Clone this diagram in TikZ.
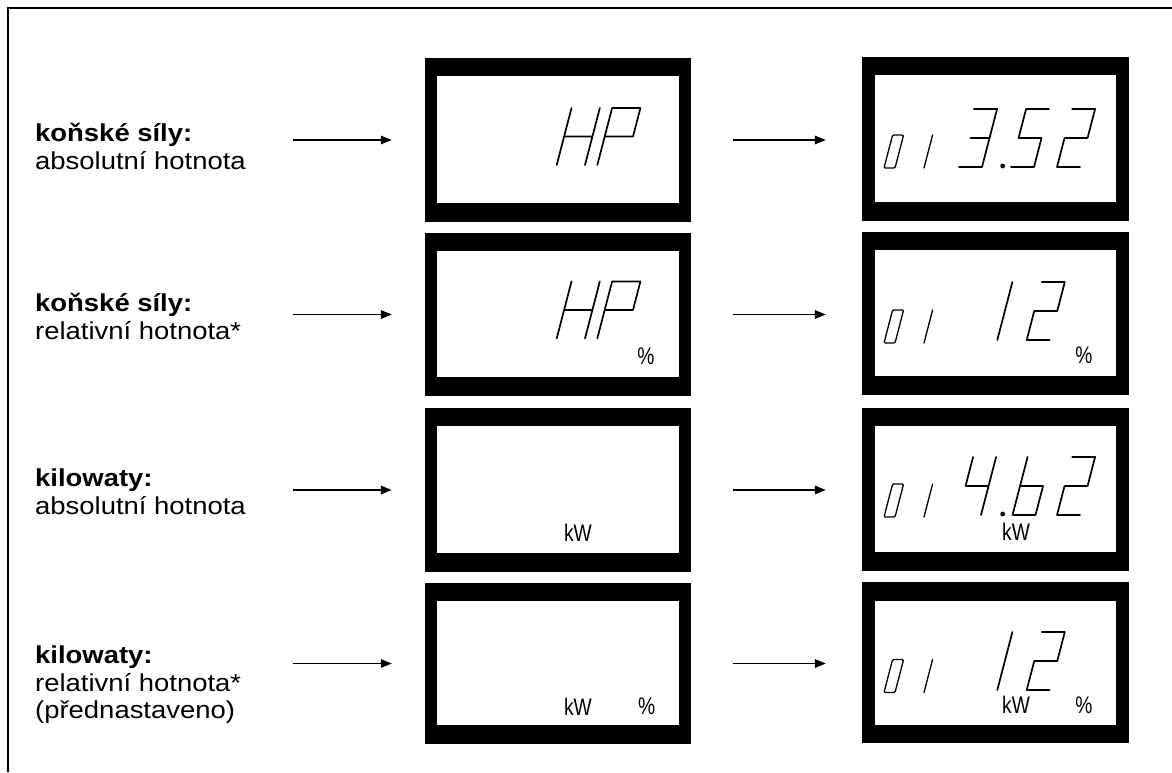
\documentclass[tikz,border=0pt]{standalone}
\usepackage{fontspec}
\setmainfont{Liberation Sans}
\newfontfamily\labelfont[FakeStretch=1.12]{Liberation Sans}
\newfontfamily\lcdfont[FakeStretch=0.8]{Liberation Sans}
\usetikzlibrary{arrows.meta,calc}

% one slanted seven-segment glyph, local origin at its bottom-left, y up
\newcommand\lcdglyph[3]{\begin{scope}[shift={(#1,#2)},y=1pt,xslant=0.26]#3\end{scope}}
% white window inside a black display frame
\newcommand\lcdwindow[2]{\fill[white] ([xshift=#2,yshift=-18.5pt]#1.north west) rectangle ([xshift=-#2,yshift=19pt]#1.south east);}

\begin{document}
\begin{tikzpicture}[x=1pt,y=-1pt,
  lbl/.style={anchor=west, align=left, inner sep=0pt,
    font=\labelfont\fontsize{24.5}{27.5}\selectfont},
  lcd/.style={fill=black, inner sep=0pt},
  arr/.style={line width=1.5pt, -{Triangle[length=11pt,width=8.5pt]}},
  seg/.style={line width=1.7pt, line cap=round, line join=round},
  segs/.style={line width=1.3pt, line cap=round, line join=round, rounded corners=1.2pt},
  unit/.style={inner sep=0pt, font=\lcdfont\fontsize{24}{24}\selectfont},
  frame/.style={line width=2pt}]

\useasboundingbox (0,0) rectangle (1172,772);
\fill[white] (0,0) rectangle (1172,772);

% outer frame (top and left edges)
\draw[frame] (7.7,772) -- (7.7,8.3) -- (1172,8.3);

% display frames: first screen column
\node[lcd, minimum width=266pt, minimum height=164pt] (m1) at (558,140) {};
\node[lcd, minimum width=266pt, minimum height=163pt] (m2) at (558,314.5) {};
\node[lcd, minimum width=266pt, minimum height=164pt] (m3) at (558,490) {};
\node[lcd, minimum width=266pt, minimum height=161pt] (m4) at (558,663.5) {};
% second screen column
\node[lcd, minimum width=267pt, minimum height=164pt] (r1) at (995.5,139) {};
\node[lcd, minimum width=267pt, minimum height=163pt] (r2) at (995.5,313.4) {};
\node[lcd, minimum width=267pt, minimum height=163pt] (r3) at (995.5,489) {};
\node[lcd, minimum width=267pt, minimum height=161pt] (r4) at (995.5,662.8) {};

\lcdwindow{m1}{12.5pt}\lcdwindow{m2}{12.5pt}\lcdwindow{m3}{12.5pt}\lcdwindow{m4}{12.5pt}
\lcdwindow{r1}{13pt}\lcdwindow{r2}{13pt}\lcdwindow{r3}{13pt}\lcdwindow{r4}{13pt}

% row labels
\node[lbl] (t1) at (35,146.5) {\textbf{koňské síly:}\\absolutní hotnota};
\node[lbl] (t2) at (35,316.5) {\textbf{koňské síly:}\\relativní hotnota*};
\node[lbl] (t3) at (35,491.5) {\textbf{kilowaty:}\\absolutní hotnota};
\node[lbl] (t4) at (35,685) {\textbf{kilowaty:}\\relativní hotnota*\\(přednastaveno)};

% arrow starts
\coordinate (s1) at (293,140);
\coordinate (s2) at (293,314.5);
\coordinate (s3) at (293,490);
\coordinate (s4) at (293,663.5);

\foreach \i in {1,...,4}{
  \draw[arr, shorten >=33pt] (s\i) -- (m\i.west);
  \draw[arr, shorten <=42pt, shorten >=36pt] (m\i.east) -- (m\i.east -| r\i.west);
}

% ---- first screen column ----
% HP
\lcdglyph{556.7}{165}{\draw[seg] (0,0)--(0,57) (28.3,0)--(28.3,57) (0,28.5)--(28.3,28.5)
  (40.6,0)--(40.6,57)--(68.9,57)--(68.9,28.5)--(40.6,28.5);}
% HP %
\lcdglyph{556.7}{338.4}{\draw[seg] (0,0)--(0,57) (28.3,0)--(28.3,57) (0,28.5)--(28.3,28.5)
  (40.6,0)--(40.6,57)--(68.9,57)--(68.9,28.5)--(40.6,28.5);}
\node[unit] (pm2) at (646,356.7) {\%};
\node[unit] (km3) at (578,532.7) {kW};
\node[unit] (km4) at (578,706.7) {kW};
\node[unit] (pm4) at (646.7,706.7) {\%};

% ---- second screen column ----
% channel number 01 in each row
\foreach \b in {168,343,517,692.5}{
  \lcdglyph{884}{\b}{\draw[segs] (0,0)--(11,0)--(11,33)--(0,33)--cycle; \draw[segs] (40,0)--(40,33);}
}
% 3.52
\lcdglyph{959}{167}{\draw[seg] (0,58)--(23,58)--(23,0)--(0,0) (4,29)--(23,29);}
\fill (1002.7,166) circle (2.4pt);
\lcdglyph{1011}{167}{\draw[seg] (23,58)--(0,58)--(0,29)--(23,29)--(23,0)--(0,0);}
\lcdglyph{1057}{167}{\draw[seg] (0,58)--(23,58)--(23,29)--(0,29)--(0,0)--(23,0);}
% 12 %
\lcdglyph{974.3}{340}{\draw[seg] (23,58)--(23,0);}
\lcdglyph{1026.7}{340}{\draw[seg] (0,58)--(23,58)--(23,29)--(0,29)--(0,0)--(23,0);}
\node[unit] (pr2) at (1084,355) {\%};
% 4.62 kW
\lcdglyph{958}{515}{\draw[seg] (0,58)--(0,29)--(23,29) (23,58)--(23,0);}
\fill (1002.7,514) circle (2.4pt);
\lcdglyph{1012.5}{515}{\draw[seg] (0,58)--(0,0)--(23,0)--(23,29)--(0,29);}
\lcdglyph{1057}{515}{\draw[seg] (0,58)--(23,58)--(23,29)--(0,29)--(0,0)--(23,0);}
\node[unit] (kr3) at (1016,532) {kW};
% 12 kW %
\lcdglyph{974.3}{690}{\draw[seg] (23,58)--(23,0);}
\lcdglyph{1026.7}{690}{\draw[seg] (0,58)--(23,58)--(23,29)--(0,29)--(0,0)--(23,0);}
\node[unit] (kr4) at (1016,705) {kW};
\node[unit] (pr4) at (1084,705) {\%};
\end{tikzpicture}
\end{document}
